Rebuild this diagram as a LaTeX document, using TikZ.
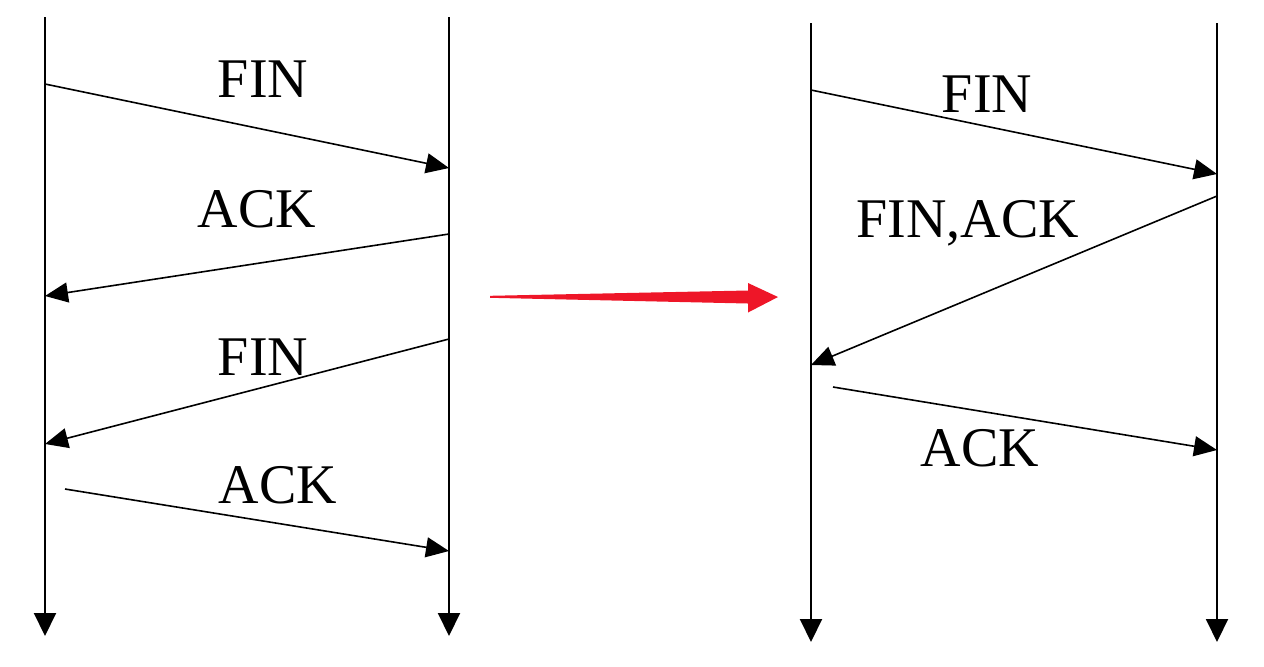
\documentclass[tikz,border=0pt]{standalone}
\usepackage{fontspec}
\setmainfont{Liberation Serif}
\usetikzlibrary{arrows.meta}
\definecolor{redarrow}{RGB}{238,22,40}
\begin{document}
\begin{tikzpicture}[x=0.5pt,y=-0.5pt,
  timeline/.style={line width=1pt,-{Triangle[length=11.5pt,width=11pt]}},
  msg/.style={line width=0.8pt,-{Triangle[length=11.5pt,width=10pt]}},
  lbl/.style={anchor=base,inner sep=0pt,font=\fontsize{28pt}{30pt}\selectfont}]
\useasboundingbox (0,0) rectangle (1264,666);
% timelines
\coordinate (L1t) at (45,17);  \coordinate (L1b) at (45,636);
\coordinate (L2t) at (449,17); \coordinate (L2b) at (449,636);
\coordinate (R1t) at (811,23); \coordinate (R1b) at (811,642);
\coordinate (R2t) at (1217,23);\coordinate (R2b) at (1217,642);
\draw[timeline] (L1t) -- (L1b);
\draw[timeline] (L2t) -- (L2b);
\draw[timeline] (R1t) -- (R1b);
\draw[timeline] (R2t) -- (R2b);
% left messages
\coordinate (a1s) at (45,84);   \coordinate (a1e) at (449,168);
\coordinate (a2s) at (449,234); \coordinate (a2e) at (45,296);
\coordinate (a3s) at (449,339); \coordinate (a3e) at (45,444);
\coordinate (a4s) at (65,489);  \coordinate (a4e) at (449,551);
\draw[msg] (a1s) -- (a1e);
\draw[msg] (a2s) -- (a2e);
\draw[msg] (a3s) -- (a3e);
\draw[msg] (a4s) -- (a4e);
\node[lbl] (t1) at (263,97) {FIN};
\node[lbl] (t2) at (257,227) {ACK};
\node[lbl] (t3) at (263,375) {FIN};
\node[lbl] (t4) at (278,503) {ACK};
% right messages
\coordinate (b1s) at (811,90);   \coordinate (b1e) at (1217,174);
\coordinate (b2s) at (1217,196); \coordinate (b2e) at (811,365);
\coordinate (b3s) at (833,387);  \coordinate (b3e) at (1217,450);
\draw[msg] (b1s) -- (b1e);
\draw[msg] (b2s) -- (b2e);
\draw[msg] (b3s) -- (b3e);
\node[lbl] (u1) at (987,112) {FIN};
\node[lbl] (u2) at (968,237) {FIN,ACK};
\node[lbl] (u3) at (980,466) {ACK};
% red arrow
\fill[redarrow] (490,295.8) -- (748,290.5) -- (748,283) -- (778,297) -- (748,312.5) -- (748,303.5) -- (490,297.8) -- cycle;
\end{tikzpicture}
\end{document}
